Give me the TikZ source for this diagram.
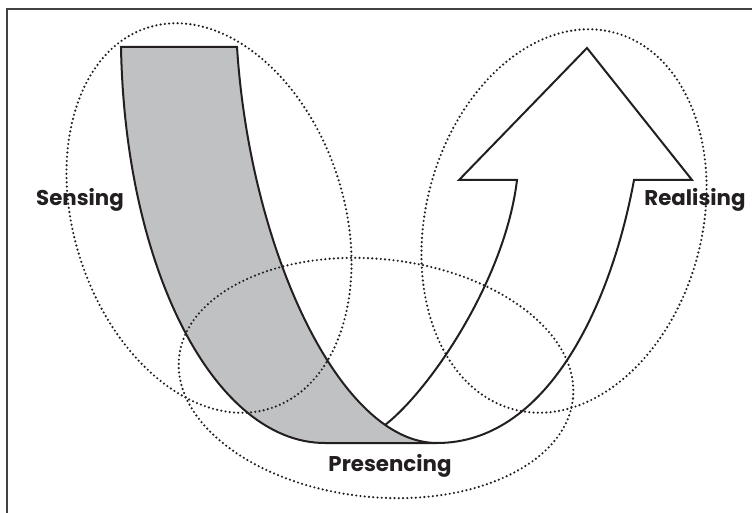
\documentclass[tikz,border=0pt]{standalone}
\usepackage{fontspec}
\setmainfont{Poppins}
\definecolor{ink}{RGB}{35,31,32}
\definecolor{band}{RGB}{192,193,195}
\begin{document}
\begin{tikzpicture}[x=0.75pt,y=-0.75pt,
  frameline/.style={draw=ink!85,line width=1.2pt},
  outline/.style={draw=ink,line width=1.5pt,line join=miter},
  dots/.style={draw=ink,line width=1.8pt,line cap=round,dash pattern=on 0pt off 3.2pt},
  lab/.style={font=\fontsize{16}{19}\selectfont\bfseries,text=ink,inner sep=0pt}]
\useasboundingbox (0,0) rectangle (752,513);
\draw[frameline] (7,513) -- (7,9) -- (752,9);
% grey band
\path[outline,fill=band] (121,47) -- (237,47)
  .. controls (250,250) and (340,443) .. (437,443)
  -- (325,443)
  .. controls (215,443) and (125,270) .. (121,47) -- cycle;
% white arrow
\coordinate (join) at (385,425);
\coordinate (bottom) at (437,443);
\path[outline] (join) .. controls (430,390) and (505,280) .. (517,180)
  -- (459,180) -- (587,48) -- (692,180) -- (634,180)
  .. controls (610,310) and (545,443) .. (bottom);
% dotted ellipses
\draw[dots,rotate around={18:(209,218)}] (209,218) ellipse [x radius=135, y radius=200];
\draw[dots,rotate around={-15:(564,221)}] (564,221) ellipse [x radius=138, y radius=195];
\draw[dots,rotate around={-6:(376,378)}] (376,378) ellipse [x radius=198, y radius=119];
% labels
\node[lab] (sensing) at (80,200) {Sensing};
\node[lab] (realising) at (695,200) {Realising};
\node[lab] (presencing) at (390,466) {Presencing};
\end{tikzpicture}
\end{document}
